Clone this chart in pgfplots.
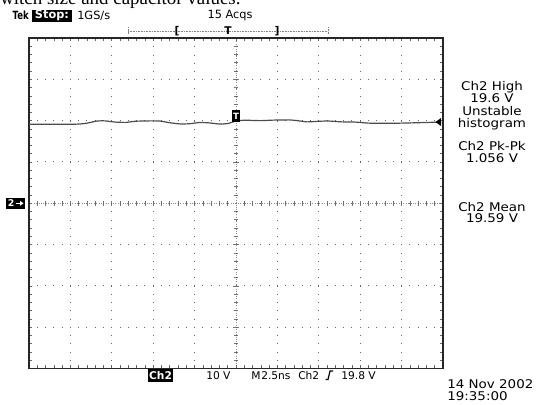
\documentclass[border=0pt]{standalone}
\usepackage{pgfplots}
\pgfplotsset{compat=1.18}
\usepackage{fontspec}
\setmainfont{Liberation Serif}
\newfontfamily\tek{DejaVu Sans}

% scope screen: 10 div x 2.5 ns, 8 div x 10 V (Ch2)
\pgfplotsset{scr/.style={scale only axis, width=310.5pt, height=247.875pt,
  at={(21.75pt,-276.375pt)}, anchor=south west,
  xmin=-12.5, xmax=12.5, ymin=-40, ymax=40,
  xtick distance=2.5, ytick distance=10, minor tick num=4,
  xticklabels={}, yticklabels={}}}

\begin{document}
\begin{tikzpicture}
\useasboundingbox (0,0) rectangle (405.75pt,-303pt);

% crosshair through the centre, with sub-division ticks
\begin{axis}[scr, axis lines=middle,
  every inner x axis line/.append style={-}, every inner y axis line/.append style={-},
  axis line style={draw=black!45, dash pattern=on 0.6pt off 1.2pt},
  tick align=center, major tick length=4pt, minor tick length=3.5pt,
  tick style={black!55, line width=0.5pt}]
\end{axis}

\begin{axis}[scr, axis line style={black!85, line width=1.1pt},
  tick align=inside, tick pos=both, major tick length=2.6pt, minor tick length=2.3pt,
  tick style={black!60, line width=0.5pt},
  grid=major,
  x grid style={black!60, line width=0.75pt, dash pattern=on 0.75pt off 5.4375pt, dash phase=0.375pt},
  y grid style={black!60, line width=0.75pt, dash pattern=on 0.75pt off 5.46pt, dash phase=0.375pt}]
\addplot[black!70, line width=0.9pt, smooth, tension=0.4] coordinates {
  (-12.5,19.14) (-9.7,19.14) (-9.0,19.4) (-8.4,19.9) (-7.9,19.94) (-7.3,19.65)
  (-6.6,19.58) (-6.1,19.85) (-5.2,19.94) (-4.6,19.9) (-4.0,19.5) (-3.4,19.21)
  (-2.8,19.25) (-2.2,19.55) (-1.6,19.45) (-1.0,19.18) (-0.5,19.3) (0,19.9)
  (0.5,20.1) (1.5,20.0) (2.2,20.12) (3.2,20.18) (3.7,20.0) (4.3,19.7)
  (5.0,19.85) (5.6,19.9) (6.4,19.7) (7.2,19.65) (8.0,19.4) (9.0,19.35)
  (10.0,19.4) (11.0,19.5) (12.3,19.65)};
\end{axis}

% annotations, in image pixels (y down)
\begin{scope}[x=0.75pt, y=-0.75pt]
% caption of the page, cut off by the top edge
\node[anchor=base west, inner sep=0] at (-10.5,4) {\fontsize{14.2pt}{16pt}\selectfont Switch size and capacitor values.};

% header line
\node[anchor=west, inner sep=0, xscale=0.75] at (12.5,15.7) {\tek\bfseries\fontsize{8.5pt}{9pt}\selectfont Tek};
\fill[black] (32,9.5) rectangle (72,22);
\node[text=white, inner sep=0] at (52,15.7) {\tek\bfseries\fontsize{8.5pt}{9pt}\selectfont Stop:};
\node[anchor=west, inner sep=0] at (77,15.7) {\tek\fontsize{8.5pt}{9pt}\selectfont 1GS/s};
\node[inner sep=0] at (230,15.7) {\tek\fontsize{8.5pt}{9pt}\selectfont 15 Acqs};

% record bar
\draw[black!50, line width=0.5pt, dash pattern=on 0.5pt off 0.7pt] (128,31) -- (328,31);
\draw[black!50, line width=0.5pt, dash pattern=on 0.5pt off 0.7pt] (128,27) -- (128,35) (328,27) -- (328,35);
\node[inner sep=0] at (177,31) {\tek\bfseries\fontsize{8pt}{9pt}\selectfont [};
\node[inner sep=0] at (228,31) {\tek\bfseries\fontsize{8pt}{9pt}\selectfont T};
\node[inner sep=0] at (277,31) {\tek\bfseries\fontsize{8pt}{9pt}\selectfont ]};

% trigger position and level markers
\fill[black] (232,110) rectangle (240,122);
\node[text=white, inner sep=0] at (236,116) {\tek\bfseries\fontsize{6.5pt}{7pt}\selectfont T};
\fill[black] (435.5,122) -- (441,118) -- (441,126) -- cycle;

% channel 2 ground marker
\fill[black] (6,197.5) rectangle (25,209);
\node[text=white, anchor=west, inner sep=0] at (7.5,203.3) {\tek\bfseries\fontsize{7pt}{8pt}\selectfont 2};
\draw[white, line width=0.9pt] (15.5,203.3) -- (22,203.3);
\fill[white] (23.5,203.3) -- (20,200.8) -- (20,205.8) -- cycle;

% measurement readouts
\begin{scope}[every node/.style={anchor=base, inner sep=0, xscale=1.12}]
\node at (492,90.7) {\tek\fontsize{9pt}{10pt}\selectfont Ch2 High};
\node at (492,102.5) {\tek\fontsize{9pt}{10pt}\selectfont 19.6 V};
\node at (492,115) {\tek\fontsize{9pt}{10pt}\selectfont Unstable};
\node at (492,127) {\tek\fontsize{9pt}{10pt}\selectfont histogram};
\node at (492,150.7) {\tek\fontsize{9pt}{10pt}\selectfont Ch2 Pk-Pk};
\node at (492,162.3) {\tek\fontsize{9pt}{10pt}\selectfont 1.056 V};
\node at (492,211) {\tek\fontsize{9pt}{10pt}\selectfont Ch2 Mean};
\node at (492,222.7) {\tek\fontsize{9pt}{10pt}\selectfont 19.59 V};
\end{scope}

% bottom status line
\fill[black] (148,369) rectangle (173,381.5);
\node[text=white, inner sep=0] at (160.5,375.3) {\tek\bfseries\fontsize{8pt}{9pt}\selectfont Ch2};
\node[anchor=west, inner sep=0] at (206,375.3) {\tek\fontsize{8pt}{9pt}\selectfont 10 V};
\node[anchor=west, inner sep=0] at (251,375.3) {\tek\fontsize{8pt}{9pt}\selectfont M};
\node[anchor=west, inner sep=0] at (261,375.3) {\tek\fontsize{8pt}{9pt}\selectfont 2.5ns};
\node[anchor=west, inner sep=0] at (298,375.3) {\tek\fontsize{8pt}{9pt}\selectfont Ch2};
\draw[black, line width=0.9pt] (325.5,379.5) -- (328,379.5) -- (330,371) -- (333,371);
\node[anchor=east, inner sep=0] at (376,375.3) {\tek\fontsize{8pt}{9pt}\selectfont 19.8 V};

% date stamp
\node[anchor=base west, inner sep=0, xscale=1.12] at (447,388) {\tek\fontsize{9pt}{10pt}\selectfont 14 Nov 2002};
\node[anchor=base west, inner sep=0, xscale=1.12] at (447,400.5) {\tek\fontsize{9pt}{10pt}\selectfont 19:35:00};
\end{scope}
\end{tikzpicture}
\end{document}
